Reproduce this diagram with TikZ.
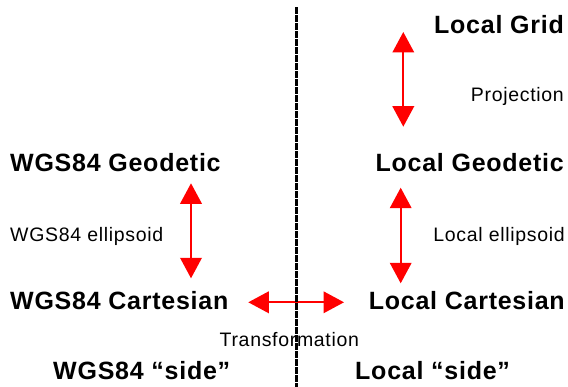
\documentclass[tikz,border=0pt]{standalone}
\usepackage{fontspec}
\setmainfont{Liberation Sans}
\newfontfamily\lsbold[LetterSpace=3]{Liberation Sans}
\newfontfamily\lsreg[LetterSpace=3.5]{Liberation Sans}
\usetikzlibrary{arrows.meta}
\begin{document}
\begin{tikzpicture}[x=1pt,y=-1pt,
  title/.style={inner sep=0pt,font=\lsbold\bfseries\fontsize{25}{29}\selectfont},
  lbl/.style={inner sep=0pt,font=\lsreg\fontsize{19.5}{23}\selectfont},
  redarrow/.style={draw=red,line width=2pt,
    {Triangle[length=20.5pt,width=21.5pt]}-{Triangle[length=20.5pt,width=21.5pt]}},
  divider/.style={draw=black,line width=3pt,dash pattern=on 6.5pt off 1.5pt}]
\useasboundingbox (0,0) rectangle (568,387);
\fill[white] (0,0) rectangle (568,387);
% titles
\node[title,anchor=base east] (grid) at (564,33.3) {Local Grid};
\node[title,anchor=base west] (wgeo) at (10,171.7) {WGS84 Geodetic};
\node[title,anchor=base east] (lgeo) at (564,172) {Local Geodetic};
\node[title,anchor=base west] (wcart) at (10,310) {WGS84 Cartesian};
\node[title,anchor=base east] (lcart) at (565,310) {Local Cartesian};
\node[title,anchor=base west] (wside) at (53,379.3) {WGS84 “side”};
\node[title,anchor=base west] (lside) at (355,379.3) {Local “side”};
% labels
\node[lbl,anchor=base east] (proj) at (564,101.7) {Projection};
\node[lbl,anchor=base west] (well) at (10,241.7) {WGS84 ellipsoid};
\node[lbl,anchor=base east] (lell) at (565,241.7) {Local ellipsoid};
\node[lbl,anchor=base west] (trans) at (219.5,346.7) {Transformation};
% arrow ends
\coordinate (a1t) at (403.3,32);
\coordinate (a1b) at (403.3,126.7);
\coordinate (a2t) at (191,183.3);
\coordinate (a2b) at (191,278.3);
\coordinate (a3t) at (400.7,187.7);
\coordinate (a3b) at (400.7,283.3);
\coordinate (a4l) at (248.3,302.3);
\coordinate (a4r) at (344,302.3);
\draw[redarrow] (a1t) -- (a1b);
\draw[redarrow] (a2t) -- (a2b);
\draw[redarrow] (a3t) -- (a3b);
\draw[redarrow] (a4l) -- (a4r);
% divider
\coordinate (dtop) at (296.7,7.3);
\coordinate (dbot) at (296.7,387);
\draw[divider] (dtop) -- (dbot);
\end{tikzpicture}
\end{document}
